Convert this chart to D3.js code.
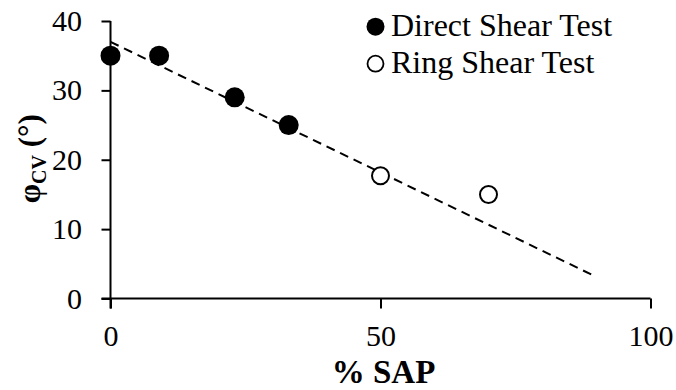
<!DOCTYPE html>
<html><head><meta charset="utf-8">
<script src="https://cdn.jsdelivr.net/npm/d3@7"></script>
<style>
body{margin:0;background:#fff;}
svg text{font-family:'Liberation Serif','Tinos','Times New Roman','Nimbus Roman','DejaVu Serif',serif;fill:#000;}
</style></head>
<body><svg id="c" width="676" height="390"></svg>
<script>
const directX = [0, 9, 23, 33];
const directY = [35, 35, 29, 25];
const ringX = [50, 70];
const ringY = [17.7, 15];
const trendX = [0, 90];
const trendY = [37.0, 3.1];
const xTicks = [0, 50, 100];
const yTicks = [0, 10, 20, 30, 40];
const legendLabels = ["Direct Shear Test", "Ring Shear Test"];

const FONT = "'Liberation Serif','Tinos','Times New Roman','Nimbus Roman','DejaVu Serif',serif";
const svg = d3.select("#c");
const x = d3.scaleLinear().domain([0, 100]).range([110.5, 650.5]);
const y = d3.scaleLinear().domain([0, 40]).range([298.5, 21]);

const xa = svg.append("g").attr("transform", `translate(0,${y(0)})`)
  .call(d3.axisBottom(x).tickValues(xTicks).tickSize(10).tickPadding(16).tickSizeOuter(0));
const ya = svg.append("g").attr("transform", `translate(${x(0)},0)`)
  .call(d3.axisLeft(y).tickValues(yTicks).tickSize(9).tickPadding(19.5).tickSizeOuter(0));
[xa, ya].forEach(g => {
  g.attr("font-family", null).attr("font-size", null);
  g.select(".domain").attr("stroke", "#000").attr("stroke-width", 2);
  g.selectAll(".tick line").attr("stroke", "#000").attr("stroke-width", 2);
  g.selectAll(".tick text").style("font-family", FONT).style("font-size", "30px").attr("fill", "#000");
});
xa.select(".domain").attr("d", `M${x(0)-9},0H${x(100)}`);
ya.select(".domain").attr("d", `M0,${y(40)}V${y(0)+10}`);

const tr = trendX.map((v, i) => [v, trendY[i]]);
svg.append("path").datum(tr)
  .attr("d", d3.line().x(d => x(d[0])).y(d => y(d[1])))
  .attr("fill", "none").attr("stroke", "#000").attr("stroke-width", 2)
  .attr("stroke-dasharray", "9,6");

svg.append("g").selectAll("circle").data(directX.map((v, i) => [v, directY[i]])).join("circle")
  .attr("cx", d => x(d[0])).attr("cy", d => y(d[1])).attr("r", 10).attr("fill", "#000");
svg.append("g").selectAll("circle").data(ringX.map((v, i) => [v, ringY[i]])).join("circle")
  .attr("cx", d => x(d[0])).attr("cy", d => y(d[1])).attr("r", 8.5)
  .attr("fill", "#fff").attr("stroke", "#000").attr("stroke-width", 2);

const lg = svg.append("g");
legendLabels.forEach((lab, i) => {
  const cy = 26.7 + i * 37;
  lg.append("circle").attr("cx", 375.5).attr("cy", cy).attr("r", i === 0 ? 9 : 8)
    .attr("fill", i === 0 ? "#000" : "#fff").attr("stroke", "#000").attr("stroke-width", i === 0 ? 0 : 1.8);
  lg.append("text").attr("x", 391).attr("y", cy + 9.5).style("font-family", FONT).style("font-size", "32px").text(lab);
});

svg.append("text").attr("x", x(50) + 3).attr("y", 382.7).attr("text-anchor", "middle")
  .style("font-family", FONT).style("font-size", "33px").style("font-weight", "bold").text("% SAP");
const yt = svg.append("text").attr("transform", `translate(40,${(y(0)+y(40))/2 - 1}) rotate(-90)`)
  .attr("text-anchor", "middle").style("font-family", FONT).style("font-size", "31px").style("font-weight", "bold");
yt.append("tspan").text("φ");
yt.append("tspan").style("font-size", "20px").attr("dy", 6).text("CV");
yt.append("tspan").attr("dy", -6).text(" (°)");
</script></body></html>
